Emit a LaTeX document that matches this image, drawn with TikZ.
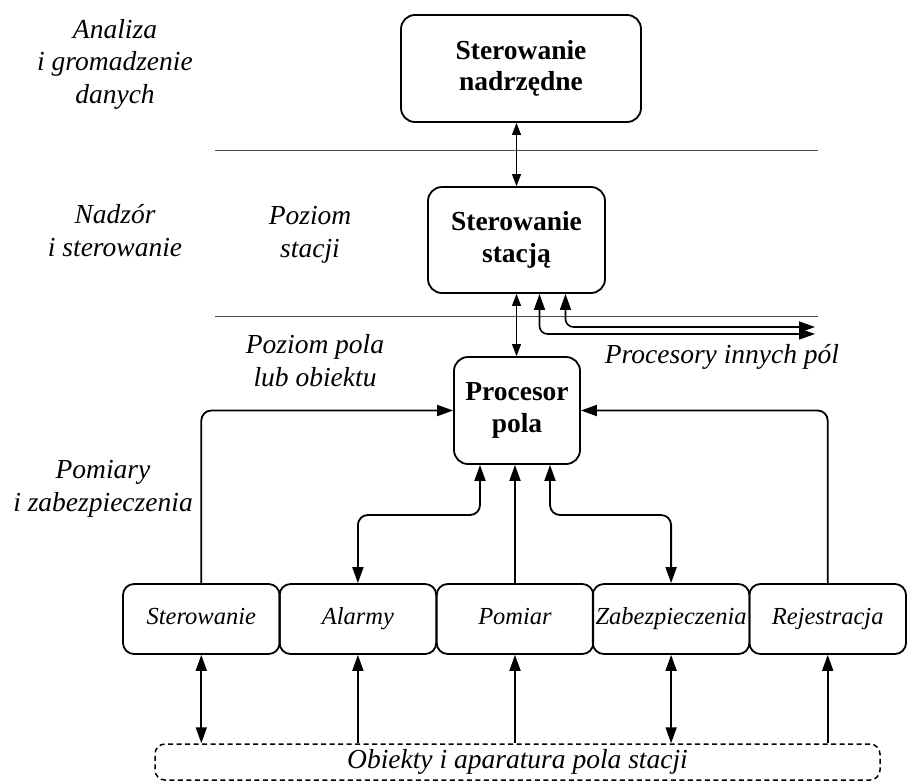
\documentclass[tikz,border=0pt]{standalone}
\usepackage{fontspec}
\setmainfont{Liberation Serif}
\usetikzlibrary{arrows.meta,calc}

\begin{document}
\begin{tikzpicture}[x=1pt,y=-1pt,
  lbl/.style={font=\fontsize{27.5}{32.5}\selectfont\itshape, align=center, inner sep=0pt, anchor=base},
  bigbox/.style={draw, line width=1.8pt, rounded corners=14pt, inner sep=0pt, align=center,
                 font=\fontsize{27.5}{31.5}\selectfont\bfseries},
  unitbox/.style={draw, line width=1.8pt, rounded corners=11pt, inner sep=0pt,
                  minimum width=156.6pt, minimum height=70pt, text height=17pt, text depth=6pt,
                  font=\fontsize{24.5}{30}\selectfont\itshape},
  fieldbox/.style={draw, line width=1.5pt, dash pattern=on 5pt off 3.5pt, rounded corners=10pt,
                   inner sep=0pt, minimum width=725pt, minimum height=36pt,
                   text height=19pt, text depth=7pt,
                   font=\fontsize{27.5}{30}\selectfont\itshape},
  sepline/.style={line width=1pt, draw=black!70},
  tipS/.tip={Triangle[length=12pt,width=9pt]},
  tipL/.tip={Triangle[length=16pt,width=11pt]},
  thinlink/.style={line width=1pt},
  midlink/.style={line width=1.6pt, rounded corners=8pt},
  fatlink/.style={line width=1.8pt, rounded corners=10pt},
]
\useasboundingbox (0,0) rectangle (908,782);

% level separators
\draw[sepline] (215,150) -- (818,150);
\draw[sepline] (215,316) -- (818,316);

% level labels (placed by the baseline of their last line)
\node[lbl] (lAnal) at (115,103) {Analiza\\i gromadzenie\\danych};
\node[lbl] (lNadz) at (115,256) {Nadzór\\i sterowanie};
\node[lbl] (lStac) at (310,257) {Poziom\\stacji};
\node[lbl] (lPola) at (315,386) {Poziom pola\\lub obiektu};
\node[lbl] (lPomi) at (103,511) {Pomiary\\i zabezpieczenia};
\node[lbl] (lInne) at (722,363) {Procesory innych pól};

% main blocks
\node[bigbox, minimum width=240pt, minimum height=107pt] (top)  at (521,68.5)  {Sterowanie\\nadrzędne};
\node[bigbox, minimum width=177pt, minimum height=106pt] (stat) at (516.5,240) {Sterowanie\\stacją};
\node[bigbox, minimum width=126pt, minimum height=107pt] (proc) at (517,410.5) {Procesor\\pola};

% function units
\node[unitbox] (b1) at (201.3,619) {Sterowanie};
\node[unitbox] (b2) at (357.9,619) {Alarmy};
\node[unitbox] (b3) at (515,619) {Pomiar};
\node[unitbox] (b4) at (671.1,619) {Zabezpieczenia};
\node[unitbox] (b5) at (827.7,619) {Rejestracja};

% field equipment
\node[fieldbox] (obj) at (517.5,762) {Obiekty i aparatura pola stacji};

% links between the upper levels
\draw[thinlink, tipS-tipS] (stat.north |- top.south) -- (stat.north);
\draw[thinlink, tipS-tipS] (stat.south) -- (stat.south |- proc.north);

% links to other field processors
\coordinate (oth1) at (815,334);
\coordinate (oth2) at (815,327);
\draw[midlink, tipL-tipL] ([xshift=23pt]stat.south) |- (oth1);
\draw[midlink, tipL-tipL] ([xshift=49pt]stat.south) |- (oth2);

% function units to field processor
\coordinate (jl) at (0,515);
\draw[fatlink, -tipL] (b1.north) |- (proc.west);
\draw[fatlink, -tipL] (b5.north) |- (proc.east);
\draw[fatlink, tipL-tipL] ([xshift=-37pt]proc.south) |- (jl -| b2.north) -- (b2.north);
\draw[fatlink, tipL-tipL] ([xshift=33pt]proc.south) |- (jl -| b4.north) -- (b4.north);
\draw[fatlink, -tipL] (b3.north) -- (b3.north |- proc.south);

% field equipment to function units
\draw[fatlink, tipL-tipL] (b1.south) -- (b1.south |- obj.north);
\draw[fatlink, -tipL] (b2.south |- obj.north) -- (b2.south);
\draw[fatlink, -tipL] (b3.south |- obj.north) -- (b3.south);
\draw[fatlink, tipL-tipL] (b4.south) -- (b4.south |- obj.north);
\draw[fatlink, -tipL] (b5.south |- obj.north) -- (b5.south);
\end{tikzpicture}
\end{document}
